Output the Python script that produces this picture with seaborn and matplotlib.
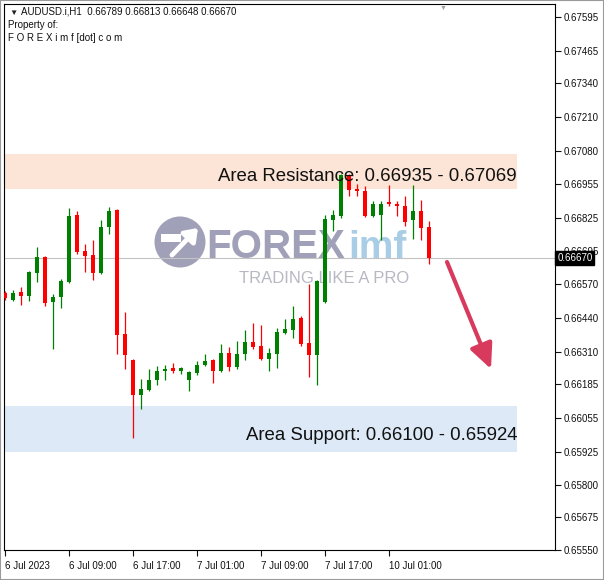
import matplotlib
matplotlib.use('Agg')
import matplotlib.pyplot as plt
import matplotlib.transforms as mtrans
from matplotlib.patches import Rectangle, Circle
import pandas as pd
import seaborn as sns

sns.set_theme(style='white')
plt.rcParams['font.family'] = ['Liberation Sans', 'DejaVu Sans']

# AUDUSD H1 candles
bars = list(range(54))
opens = [0.66536, 0.66510, 0.66540, 0.66525, 0.66613, 0.66674, 0.66502, 0.66521, 0.66578, 0.66834,
         0.66697, 0.66682, 0.66613, 0.66789, 0.66854, 0.66380, 0.66280, 0.66143, 0.66162, 0.66200,
         0.66235, 0.66246, 0.66238, 0.66200, 0.66227, 0.66258, 0.66277, 0.66235, 0.66307, 0.66250,
         0.66300, 0.66349, 0.66334, 0.66284, 0.66300, 0.66383, 0.66395, 0.66441, 0.66342, 0.66296,
         0.66502, 0.66815, 0.66831, 0.66984, 0.66934, 0.66926, 0.66831, 0.66834, 0.66884, 0.66877,
         0.66869, 0.66815, 0.66850, 0.66789]
highs = [0.66544, 0.66548, 0.66559, 0.66620, 0.66712, 0.66678, 0.66533, 0.66590, 0.66861, 0.66850,
         0.66724, 0.66739, 0.66815, 0.66865, 0.66857, 0.66464, 0.66284, 0.66204, 0.66242, 0.66254,
         0.66258, 0.66265, 0.66250, 0.66238, 0.66273, 0.66300, 0.66284, 0.66338, 0.66330, 0.66353,
         0.66395, 0.66422, 0.66414, 0.66326, 0.66403, 0.66437, 0.66487, 0.66448, 0.66571, 0.66586,
         0.66834, 0.66854, 0.66991, 0.66991, 0.66953, 0.66945, 0.66888, 0.66888, 0.66949, 0.66888,
         0.66907, 0.66949, 0.66892, 0.66813]
lows = [0.66510, 0.66506, 0.66490, 0.66506, 0.66578, 0.66487, 0.66319, 0.66479, 0.66575, 0.66685,
        0.66617, 0.66586, 0.66609, 0.66762, 0.66303, 0.66242, 0.65978, 0.66089, 0.66160, 0.66181,
        0.66200, 0.66227, 0.66223, 0.66158, 0.66219, 0.66254, 0.66189, 0.66231, 0.66235, 0.66242,
        0.66277, 0.66319, 0.66277, 0.66235, 0.66246, 0.66380, 0.66364, 0.66334, 0.66215, 0.66181,
        0.66498, 0.66773, 0.66823, 0.66907, 0.66907, 0.66827, 0.66827, 0.66739, 0.66869, 0.66831,
        0.66793, 0.66743, 0.66739, 0.66648]
closes = [0.66517, 0.66536, 0.66525, 0.66617, 0.66674, 0.66498, 0.66521, 0.66582, 0.66831, 0.66693,
          0.66678, 0.66613, 0.66789, 0.66850, 0.66376, 0.66296, 0.66143, 0.66166, 0.66200, 0.66238,
          0.66242, 0.66238, 0.66246, 0.66231, 0.66258, 0.66273, 0.66235, 0.66307, 0.66250, 0.66303,
          0.66349, 0.66330, 0.66284, 0.66307, 0.66387, 0.66399, 0.66437, 0.66338, 0.66296, 0.66582,
          0.66819, 0.66834, 0.66988, 0.66930, 0.66926, 0.66831, 0.66877, 0.66877, 0.66877, 0.66869,
          0.66808, 0.66850, 0.66785, 0.66670]

xtick_pos = [0, 8, 16, 24, 32, 40, 48]
xtick_labels = ['6 Jul 2023', '6 Jul 09:00', '6 Jul 17:00', '7 Jul 01:00',
                '7 Jul 09:00', '7 Jul 17:00', '10 Jul 01:00']
ytick_vals = [0.67595, 0.67465, 0.67340, 0.67210, 0.67080, 0.66955, 0.66825, 0.66695, 0.66570,
              0.66440, 0.66310, 0.66185, 0.66055, 0.65925, 0.65800, 0.65675, 0.65550]
resistance = [0.66935, 0.67069]
support = [0.65924, 0.66100]
last_price = 0.66670

df = pd.DataFrame({'bar': bars, 'open': opens, 'high': highs, 'low': lows, 'close': closes})
df['up'] = df['close'] >= df['open']

fig = plt.figure(figsize=(6.04, 5.80), dpi=100)
ax = fig.add_axes([4 / 604, 30 / 580, 551 / 604, 546 / 580])
ax.set_facecolor('white')


def px(x, y):
    # image pixel -> inches for fig.dpi_scale_trans
    return (x / 100, (580 - y) / 100)


inch = fig.dpi_scale_trans
band_right = (517 - 4) / 551

# zones
ax.axhspan(resistance[0], resistance[1], xmin=0, xmax=band_right, color='#fce4d6', lw=0, zorder=1)
ax.axhspan(support[0], support[1], xmin=0, xmax=band_right, color='#dde9f6', lw=0, zorder=1)
blend = mtrans.blended_transform_factory(ax.transAxes, ax.transData)
ax.text(band_right, sum(resistance) / 2 - 0.00018,
        f'Area Resistance: {resistance[0]:.5f} - {resistance[1]:.5f}',
        transform=blend, ha='right', va='center', fontsize=13.4, color='#111111', zorder=7)
ax.text(band_right, sum(support) / 2 - 0.00022,
        f'Area Support: {support[1]:.5f} - {support[0]:.5f}',
        transform=blend, ha='right', va='center', fontsize=13.4, color='#111111', zorder=7)

# watermark
ax.add_patch(Circle(px(180, 242), 0.255, transform=inch, color='#a0a0b8', lw=0, zorder=1.5))
ax.add_patch(Rectangle(px(161, 242), 0.20, 0.075, transform=inch, color='white', lw=0, zorder=1.6))
ax.annotate('', xy=px(198, 228), xytext=px(172, 255), xycoords=inch, textcoords=inch,
            arrowprops=dict(arrowstyle='-|>,head_length=0.55,head_width=0.4', color='white',
                            lw=3.5, mutation_scale=13, shrinkA=0, shrinkB=0), zorder=1.6)
ax.text(*px(206, 258), 'FOREX', transform=inch, fontsize=29, fontweight='bold',
        color='#a0a0b8', ha='left', va='baseline', zorder=1.5)
ax.text(*px(348, 258), 'imf', transform=inch, fontsize=28, fontweight='bold',
        color='#aacde6', ha='left', va='baseline', zorder=1.5)
ax.text(*px(239, 283), 'TRADING LIKE A PRO', transform=inch, fontsize=12,
        color='#b8b8c4', ha='left', va='baseline', zorder=1.5)

# current price line
ax.axhline(last_price, color='#c4c4c4', lw=0.8, zorder=2)

# candles
for up, col in [(True, '#008000'), (False, '#ff0000')]:
    sub = df[df['up'] == up]
    ax.vlines(sub['bar'], sub['low'], sub['high'], color=col, lw=0.9, zorder=3)
    body_lo = sub[['open', 'close']].min(axis=1)
    body_h = (sub['close'] - sub['open']).abs().clip(lower=0.00004)
    ax.bar(sub['bar'], body_h, bottom=body_lo, width=0.62, color=col, lw=0, zorder=4)

# down arrow
ax.annotate('', xy=px(491, 369), xytext=px(447, 262), xycoords=inch, textcoords=inch,
            arrowprops=dict(arrowstyle='-|>,head_length=0.75,head_width=0.35', color='#d83a5e',
                            lw=3, mutation_scale=20, shrinkA=0, shrinkB=0),
            zorder=6, annotation_clip=False)

ax.set_xlim(-0.125, 68.75)
ax.set_ylim(0.65549, 0.67645)

ax.yaxis.tick_right()
ax.set_yticks(ytick_vals, [f'{v:.5f}' for v in ytick_vals])
ax.set_xticks(xtick_pos, xtick_labels)
for lab in ax.get_xticklabels():
    lab.set_horizontalalignment('left')
ax.tick_params(axis='y', which='both', direction='out', length=4, width=0.8, pad=2,
               labelsize=7, colors='#111111', right=True, left=False)
ax.tick_params(axis='x', which='both', direction='out', length=4, width=0.8, pad=4,
               labelsize=7, colors='#111111', bottom=True)
for s in ax.spines.values():
    s.set_color('black')
    s.set_linewidth(0.8)

# last price tag on the price scale
ax.text(1.004, last_price, f'{last_price:.5f}', transform=blend, ha='left', va='center',
        color='white', fontsize=7, clip_on=False, zorder=10,
        bbox=dict(boxstyle='square,pad=0.18', fc='black', ec='black'))

# header
fig.text(*px(9, 15), '\u25bc', transform=inch, fontsize=6, color='#222222')
fig.text(*px(21, 15),
         f'AUDUSD.i,H1  {opens[-1]:.5f} {highs[-1]:.5f} {lows[-1]:.5f} {closes[-1]:.5f}',
         transform=inch, fontsize=7, color='#111111')
fig.text(*px(8, 28), 'Property of:', transform=inch, fontsize=7, color='#111111')
fig.text(*px(8, 41), 'F O R E X i m f [dot] c o m', transform=inch, fontsize=7, color='#111111')
fig.text(*px(440, 10), '\u25bc', transform=inch, fontsize=5, color='#a0a0a0')

fig.add_artist(Rectangle((0, 0), 1, 1, transform=fig.transFigure, fill=False,
                         ec='#9a9a9a', lw=1.5))

fig.savefig('out.png', dpi=100)
